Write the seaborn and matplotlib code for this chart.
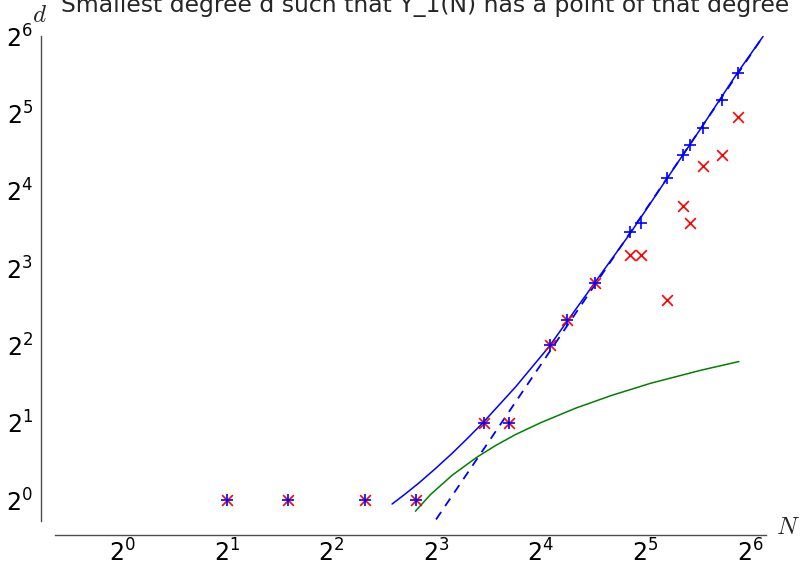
import numpy as np
import pandas as pd
import seaborn as sns
import matplotlib
matplotlib.use('Agg')
import matplotlib.pyplot as plt
from matplotlib.ticker import FixedLocator, FixedFormatter, NullLocator

sns.set_style('white')
plt.rcParams['font.family'] = ['DejaVu Sans']
plt.rcParams['mathtext.fontset'] = 'dejavusans'

# primes N and degrees
N = [2, 3, 5, 7, 11, 13, 17, 19, 23, 29, 31, 37, 41, 43, 47, 53, 59]
d_gon = [1, 1, 1, 1, 2, 2, 4, 5, 7, 11, 12, 18, 22, 24, 28, 36, 46]
d_min = [1, 1, 1, 1, 2, 2, 4, 5, 7, 9, 9, 6, 14, 12, 20, 22, 31]

# blue solid curve
solid_N = [5.98, 6.53, 7.14, 7.97, 8.91, 9.79, 10.87, 13.56, 16.9, 22.8, 29.0, 36.9, 46.5, 58.7, 69.8]
solid_d = [0.965, 1.057, 1.165, 1.326, 1.522, 1.723, 1.988, 2.76, 3.95, 6.96, 10.95, 17.8, 28.3, 45.7, 63.8]

# blue dashed line (straight on log-log)
dash_N = [8.0, 69.8]
dash_d = [0.84, 63.8]

# green curve
green_N = [6.98, 7.71, 8.91, 10.5, 11.87, 13.56, 16.0, 20.2, 25.5, 33.2, 46.2, 59.5]
green_d = [0.905, 1.05, 1.25, 1.47, 1.63, 1.80, 2.00, 2.28, 2.55, 2.85, 3.20, 3.46]

fig = plt.figure(figsize=(8, 5.71), dpi=100)
ax = fig.add_axes([55/800, 50/571, (766-55)/800, (521-36)/571])

sns.lineplot(x=solid_N, y=solid_d, ax=ax, color='blue', lw=1.1, sort=False, estimator=None)
sns.lineplot(x=dash_N, y=dash_d, ax=ax, color='blue', lw=1.3, sort=False, estimator=None,
             linestyle=(0, (5, 4)))
sns.lineplot(x=green_N, y=green_d, ax=ax, color='green', lw=1.1, sort=False, estimator=None)
sns.scatterplot(x=N, y=d_min, ax=ax, marker='x', color='red', s=60, linewidth=1.2, zorder=3)
sns.scatterplot(x=N, y=d_gon, ax=ax, marker='+', color='blue', s=80, linewidth=1.2, zorder=4)

ax.set_xscale('log', base=2)
ax.set_yscale('log', base=2)
ax.set_xlim(2 ** -0.641, 2 ** 6.153)
ax.set_ylim(2 ** -0.271, 2 ** 6.0)

pw = list(range(7))
ax.xaxis.set_major_locator(FixedLocator([2.0 ** k for k in pw]))
ax.xaxis.set_major_formatter(FixedFormatter(['$2^{%d}$' % k for k in pw]))
ax.yaxis.set_major_locator(FixedLocator([2.0 ** k for k in pw]))
ax.yaxis.set_major_formatter(FixedFormatter(['$2^{%d}$' % k for k in pw]))
ax.xaxis.set_minor_locator(NullLocator())
ax.yaxis.set_minor_locator(NullLocator())

for s in ['top', 'right']:
    ax.spines[s].set_visible(False)
for s in ['left', 'bottom']:
    ax.spines[s].set_position(('outward', 10))
    ax.spines[s].set_color('0.3')
    ax.spines[s].set_linewidth(1.0)
ax.tick_params(direction='in', length=4.5, width=0.8, color='0.3', labelsize=17,
               labelcolor='black')
ax.tick_params(axis='x', pad=3)
ax.tick_params(axis='y', pad=6)

fig.text(40/800, 1 - 15/571, '$d$', fontsize=18, ha='center', va='center',
         math_fontfamily='cm')
fig.text(788/800, 1 - 527/571, '$N$', fontsize=18, ha='center', va='center',
         math_fontfamily='cm')
fig.text(425/800, 1 - 12/571, 'Smallest degree d such that Y_1(N) has a point of that degree',
         fontsize=16.9, ha='center', va='baseline')

fig.savefig('out.png', dpi=100)
